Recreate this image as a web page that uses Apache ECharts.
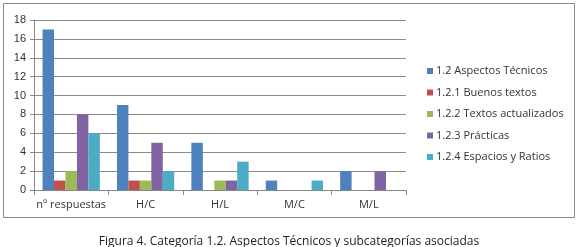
<!DOCTYPE html>
<html>
<head>
<meta charset="utf-8">
<script src="https://cdn.jsdelivr.net/npm/echarts@6/dist/echarts.min.js"></script>
<style>
  html, body { margin: 0; padding: 0; background: #fff; }
  #chart { width: 578px; height: 247px; }
</style>
</head>
<body>
<div id="chart"></div>
<script>
// categories and series values
const categories = ['nº respuestas', 'H/C', 'H/L', 'M/C', 'M/L'];
const aspectosTecnicos = [17, 9, 5, 1, 2];
const buenosTextos = [1, 1, 0, 0, 0];
const textosActualizados = [2, 1, 1, 0, 0];
const practicas = [8, 5, 1, 0, 2];
const espaciosRatios = [6, 2, 3, 1, 0];
const yTicks = [0, 2, 4, 6, 8, 10, 12, 14, 16, 18];

const seriesNames = [
  '1.2 Aspectos Técnicos',
  '1.2.1 Buenos textos',
  '1.2.2 Textos actualizados',
  '1.2.3 Prácticas',
  '1.2.4 Espacios y Ratios'
];
const seriesData = [aspectosTecnicos, buenosTextos, textosActualizados, practicas, espaciosRatios];
const colors = ['#4F81BD', '#C0504D', '#9BBB59', '#8064A2', '#4BACC6'];

const chart = echarts.init(document.getElementById('chart'), null, { renderer: 'canvas' });

const option = {
  animation: false,
  color: colors,
  title: {
    text: 'Figura 4. Categoría 1.2. Aspectos Técnicos y subcategorías asociadas',
    left: 'center',
    top: 231,
    textStyle: { fontFamily: 'Open Sans', fontSize: 12, fontWeight: 'normal', color: '#222' }
  },
  graphic: [{
    type: 'rect',
    shape: { x: 3.5, y: 3.5, width: 571, height: 214 },
    style: { fill: 'none', stroke: '#8a8a8a', lineWidth: 1 },
    silent: true
  }],
  legend: {
    orient: 'vertical',
    left: 422,
    top: 60,
    itemWidth: 6,
    itemHeight: 6,
    itemGap: 9.5,
    icon: 'rect',
    textStyle: { fontFamily: 'Open Sans', fontSize: 11, color: '#333', lineHeight: 12, padding: [0, 0, 0, -2] },
    data: seriesNames
  },
  grid: { left: 34, right: 172, top: 20, bottom: 57, containLabel: false },
  xAxis: {
    type: 'category',
    data: categories,
    axisLine: { lineStyle: { color: '#888' } },
    axisTick: { show: true, alignWithLabel: false, length: 5, lineStyle: { color: '#888' } },
    axisLabel: { interval: 0, fontFamily: 'Open Sans', fontSize: 11, color: '#333', margin: 9 }
  },
  yAxis: {
    type: 'value',
    min: 0,
    max: yTicks[yTicks.length - 1],
    interval: 2,
    axisLine: { show: true, lineStyle: { color: '#888' } },
    axisTick: { show: true, length: 4, lineStyle: { color: '#888' } },
    axisLabel: { fontFamily: 'Liberation Sans', fontSize: 11, color: '#333', margin: 8 },
    splitLine: { lineStyle: { color: '#8a8a8a' } }
  },
  series: seriesNames.map((name, i) => ({
    name,
    type: 'bar',
    data: seriesData[i],
    barGap: '0%',
    barCategoryGap: '23%',
    itemStyle: { color: colors[i] }
  }))
};

chart.setOption(option);
</script>
</body>
</html>
